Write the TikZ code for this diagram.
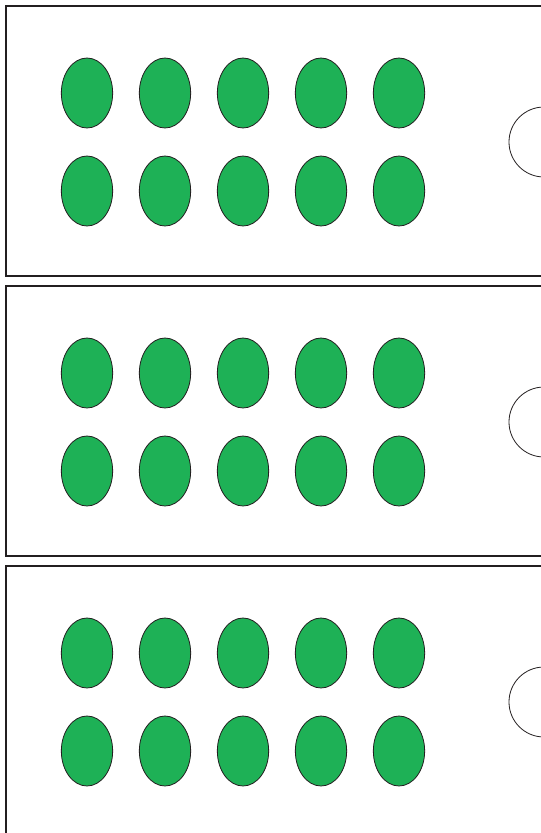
\documentclass[tikz,border=0pt]{standalone}
\usepackage{xcolor}
\usepackage{tikz}
\usetikzlibrary{shapes.geometric, positioning, calc}
\definecolor{dotgreen}{RGB}{30, 177, 86}
\definecolor{frameblack}{RGB}{35, 31, 32}

\begin{document}
\begin{tikzpicture}[x=0.75pt, y=-0.75pt]
    \useasboundingbox (0, 0) rectangle (541, 833);
    \tikzset{
        tray/.style={draw=frameblack, line width=1.5pt},
        dot/.style={ellipse, draw=frameblack, fill=dotgreen, line width=0.6pt,
                    minimum width=38.5pt, minimum height=52.5pt, inner sep=0pt},
        notch/.style={draw=frameblack, line width=0.6pt}
    }
    \foreach \p in {0, 1, 2} {
        \coordinate (T\p) at (0, 280*\p);
        % panel frame, cut off on the right
        \draw[tray] ($(T\p)+(560, 6)$) -- ($(T\p)+(6, 6)$) -- ($(T\p)+(6, 276)$) -- ($(T\p)+(560, 276)$);
        % two rows of holes
        \foreach \c [count=\i] in {87, 165, 243, 321, 399} {
            \node[dot] (up\p-\i) at ($(T\p)+(\c, 93)$) {};
            \node[dot] (lo\p-\i) at ($(T\p)+(\c, 191)$) {};
        }
        % round notch at the right edge
        \draw[notch] ($(T\p)+(544, 142)$) circle (26.25pt);
    }
\end{tikzpicture}
\end{document}
